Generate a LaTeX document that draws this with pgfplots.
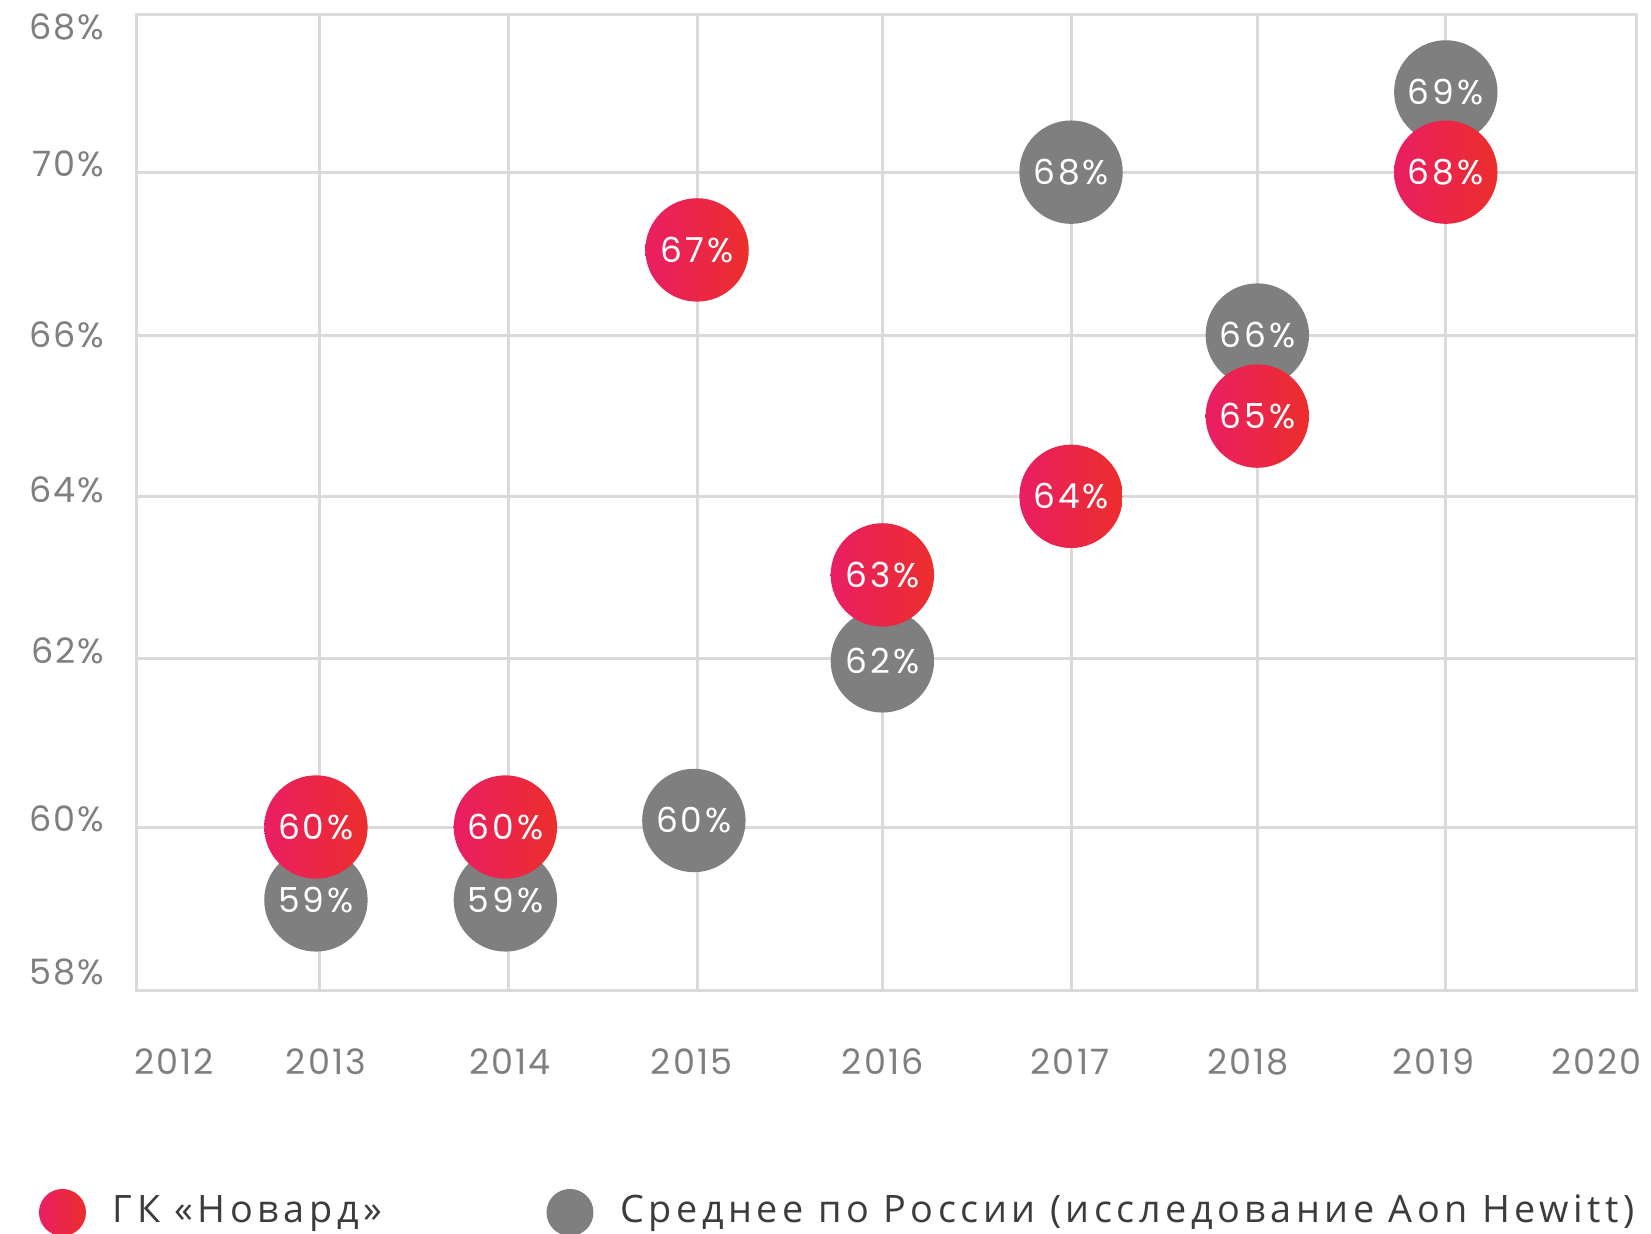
\documentclass[border=0pt]{standalone}
\usepackage{fontspec}
\usepackage{pgfplots}
\pgfplotsset{compat=1.18}
\newfontfamily\numfont{Poppins}[LetterSpace=6]
\newfontfamily\circfont{Poppins}[LetterSpace=9]
\newfontfamily\legfont{Open Sans}[LetterSpace=12]
\definecolor{gridc}{HTML}{DADADA}
\definecolor{tickc}{HTML}{7F7F7F}
\definecolor{grayc}{HTML}{7F7F7F}
\definecolor{pinkc}{RGB}{233,30,99}
\definecolor{redc}{RGB}{236,46,44}
\definecolor{legtext}{HTML}{3C3C3C}
\begin{document}
\begin{tikzpicture}
\begin{axis}[
  at={(0pt,0pt)}, anchor=south west,
  scale only axis, width=749.5pt, height=487.875pt,
  xmin=2012, xmax=2020, ymin=58, ymax=69.92,
  clip=false,
  axis line style={draw=gridc, line width=1.5pt},
  xtick={2012.197,2013.009,2013.99,2014.96,2015.98,2016.98,2017.93,2018.92,2019.79},
  xticklabels={2012,2013,2014,2015,2016,2017,2018,2019,2020},
  minor xtick={2012.972,2013.983,2014.989,2015.978,2016.985,2017.979,2018.985},
  ytick={58.23,60.10,62.15,64.12,66.01,68.098,69.775},
  yticklabels={58\%,60\%,62\%,64\%,66\%,70\%,68\%},
  minor ytick={60,62.06,64.04,66.01,68},
  xminorgrids, yminorgrids,
  minor grid style={draw=gridc, line width=1.5pt},
  major tick length=0pt, minor tick length=0pt,
  tick label style={font=\numfont\fontsize{17.5}{20}\selectfont, text=tickc, inner sep=0pt},
  xticklabel style={anchor=base, yshift=-42.1pt},
  yticklabel style={anchor=east, xshift=-16pt},
  legend columns=2,
  legend style={draw=none, fill=none, inner sep=0pt, outer sep=0pt,
    at={(-0.06538,-0.19697)}, anchor=north west,
    column sep=0pt, row sep=0pt,
    nodes={inner sep=0pt}, cells={anchor=base west},
    font=\legfont\fontsize{18.9}{22}\selectfont, text=legtext},
]
% Average for Russia (gray)
\addplot[forget plot, draw=none, mark=none, point meta=explicit symbolic,
  nodes near coords={\pgfplotspointmeta\%}, nodes near coords align=center,
  nodes near coords style={circle, fill=grayc, minimum size=51.7pt, inner sep=0pt,
    anchor=center, text=white, font=\circfont\fontsize{17.2}{20}\selectfont}]
coordinates {(2012.955,59.11)[59] (2013.966,59.11)[59] (2014.972,60.08)[60] (2015.978,62.03)[62]
  (2016.985,68.0)[68] (2017.979,66.01)[66] (2018.985,68.98)[69]};
% Novard (red)
\addplot[forget plot, draw=none, mark=none, point meta=explicit symbolic,
  nodes near coords={\pgfplotspointmeta\%}, nodes near coords align=center,
  nodes near coords style={circle, left color=pinkc, right color=redc, minimum size=51.7pt, inner sep=0pt,
    anchor=center, text=white, font=\circfont\fontsize{17.2}{20}\selectfont}]
coordinates {(2012.955,60.0)[60] (2013.966,60.0)[60] (2014.989,67.05)[67] (2015.978,63.08)[63]
  (2016.985,64.04)[64] (2017.979,65.02)[65] (2018.985,68.0)[68]};
\addlegendimage{legend image code/.code={\path[draw=none, fill=none] (-11.75pt,-20pt) rectangle (25.25pt,20pt);
  \shade[draw=none, left color=pinkc, right color=redc] (0pt,5.25pt) circle (11.75pt);}}
\addlegendentry{\makebox[216.75pt][l]{ГК «Новард»}}
\addlegendimage{legend image code/.code={\path[draw=none, fill=none] (-11.75pt,-20pt) rectangle (25.25pt,20pt);
  \fill[draw=none, grayc] (0pt,5.25pt) circle (11.75pt);}}
\addlegendentry{Среднее по России (исследование Aon Hewitt)}
\end{axis}
\pgfresetboundingbox
\path[use as bounding box] (-68.5pt,-121.125pt) rectangle (757pt,495.375pt);
\end{tikzpicture}
\end{document}
